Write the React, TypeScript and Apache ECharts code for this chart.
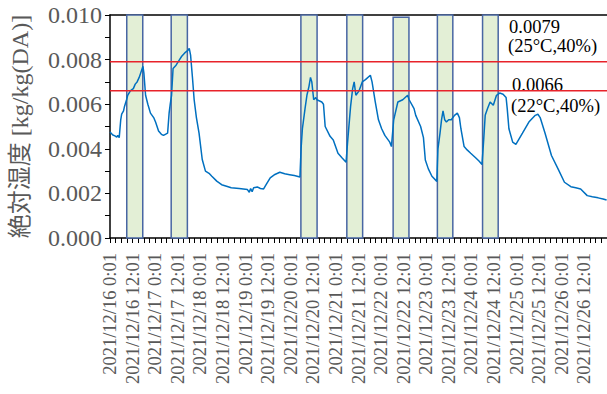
import React, { useEffect, useRef } from "react";
import * as echarts from "echarts";

// Hours elapsed since 2021/12/16 0:01
const hours = [
  0, 1.5, 2.6, 3.6, 4.1, 4.9, 5.7, 6.2, 7.2, 7.7, 8.8, 9.4, 10.8, 11.6, 12.4, 13.4, 14.4, 15.5, 16.5, 17.5,
  18.0, 18.9, 20.1, 21.5, 23.2, 24.2, 25.8, 27.3, 28.4, 29.4, 30.6, 31.4, 32.0, 32.7, 33.5, 35.1, 36.6, 38.1,
  39.7, 41.2, 42.1, 42.8, 43.8, 44.7, 45.9, 47.3, 49.0, 50.7, 52.6, 54.1, 56.7, 59.3, 61.9, 64.4, 68.6, 73.0,
  74.0, 74.7, 75.5, 76.3, 78.2, 79.9, 81.6, 83.0, 85.1, 87.6, 90.2, 92.8, 95.4, 97.9, 100.9, 101.5, 102.2,
  103.6, 104.6, 105.7, 106.5, 107.2, 108.2, 109.3, 109.9, 112.5, 113.4, 114.3, 116.9, 118.6, 121.1, 123.2,
  125.4, 126.3, 127.8, 128.9, 129.7, 130.6, 132.3, 134.0, 135.7, 138.3, 139.2, 140.9, 142.6, 144.3, 146.0,
  148.6, 149.5, 150.7, 152.9, 155.5, 158.1, 158.9, 161.5, 162.4, 165.0, 166.5, 167.5, 169.1, 171.0, 173.6,
  174.2, 175.3, 176.1, 176.9, 177.8, 178.7, 179.9, 181.3, 183.0, 184.5, 185.6, 186.4, 188.1, 189.7, 191.6,
  194.2, 196.0, 197.6, 198.5, 199.3, 200.5, 201.9, 203.6, 205.3, 207.0, 208.8, 210.4, 211.0, 211.9, 213.9,
  215.6, 217.0, 219.1, 222.5, 225.9, 227.3, 228.5, 231.1, 234.5, 238.0, 241.4, 244.8, 247.4, 250.0, 253.5,
  256.2, 259.3, 261.9, 263.8,
];

// Absolute humidity [kg/kg(DA)]
const humidity = [
  0.00475, 0.00462, 0.00458, 0.00452, 0.0046, 0.0045, 0.0053, 0.00555, 0.0057, 0.0059, 0.0062, 0.0064, 0.0066,
  0.00665, 0.0067, 0.0069, 0.007, 0.0072, 0.00745, 0.0077, 0.0074, 0.0064, 0.006, 0.0056, 0.0054, 0.0052,
  0.0048, 0.00465, 0.0046, 0.00465, 0.0047, 0.0056, 0.006, 0.0064, 0.0076, 0.00775, 0.00795, 0.00815, 0.0083,
  0.0084, 0.0085, 0.0082, 0.0072, 0.0062, 0.0054, 0.0047, 0.00352, 0.003, 0.0029, 0.00277, 0.00255, 0.00239,
  0.00232, 0.00225, 0.00222, 0.00217, 0.00205, 0.00222, 0.00208, 0.00225, 0.00229, 0.00222, 0.0022, 0.0024,
  0.0027, 0.00285, 0.00295, 0.00288, 0.00284, 0.0028, 0.00274, 0.004, 0.0049, 0.0058, 0.0064, 0.0068, 0.0072,
  0.007, 0.0062, 0.0063, 0.0062, 0.0061, 0.006, 0.005, 0.00456, 0.0044, 0.0038, 0.0036, 0.0034, 0.0044,
  0.0059, 0.0067, 0.007, 0.0064, 0.0066, 0.007, 0.0071, 0.0073, 0.007, 0.0061, 0.0053, 0.0049, 0.0046,
  0.0043, 0.0041, 0.0053, 0.0061, 0.0062, 0.0064, 0.0062, 0.0058, 0.0055, 0.005, 0.0045, 0.0035, 0.0031,
  0.00277, 0.00254, 0.004, 0.0047, 0.0053, 0.0057, 0.0053, 0.0052, 0.0053, 0.0053, 0.0055, 0.0056, 0.0054,
  0.0049, 0.0041, 0.00395, 0.0038, 0.0036, 0.00345, 0.0033, 0.0044, 0.0055, 0.0058, 0.0061, 0.00595, 0.0064,
  0.0065, 0.00645, 0.0063, 0.0058, 0.0049, 0.0043, 0.0042, 0.0044, 0.0047, 0.0052, 0.0055, 0.00555, 0.0054,
  0.0047, 0.0037, 0.0031, 0.0025, 0.0023, 0.00225, 0.0022, 0.0019, 0.00185, 0.0018, 0.00175, 0.0017,
];

// Occupied periods (hours since start) shown as shaded bands
const occupiedStart = [8.9, 32.5, 101.4, 125.8, 150.4, 173.9, 197.9];
const occupiedEnd = [17.4, 41.1, 110.0, 134.2, 158.8, 182.1, 206.2];
const occupiedTop = [0.01, 0.01, 0.01, 0.01, 0.0099, 0.01, 0.01];

// Reference humidity levels
const referenceLevels = [0.0079, 0.0066];
const referenceNotes = ["(25°C,40%)", "(22°C,40%)"];

const X_MIN = 0;
const X_MAX = 264;

const serif = "'Liberation Serif', 'Times New Roman', serif";

export default function App() {
  const ref = useRef<HTMLDivElement>(null);

  useEffect(() => {
    document.body.style.margin = "0";
    if (!ref.current) return;
    const chart = echarts.init(ref.current, undefined, { renderer: "svg" });

    const seriesData = hours.map((h, i) => [h, humidity[i]]);
    const bands = occupiedStart.map((s, i) => [
      { xAxis: s, yAxis: 0 },
      { xAxis: occupiedEnd[i], yAxis: occupiedTop[i] },
    ]);

    const xLabel = (v: number) => {
      const day = 16 + Math.floor(v / 24);
      const hr = v % 24;
      return `2021/12/${day} ${hr}:01`;
    };

    const levelSeries = referenceLevels.map((v) => ({
      type: "line",
      data: [
        [X_MIN, v],
        [X_MAX, v],
      ],
      showSymbol: false,
      silent: true,
      z: 4,
      lineStyle: { color: "#e8232a", width: 1.5 },
    }));

    chart.setOption({
      animation: false,
      grid: { left: 95, top: 15, right: 0, bottom: 156 },
      xAxis: [
        {
          type: "value",
          min: X_MIN,
          max: X_MAX,
          interval: 12,
          position: "bottom",
          axisLine: { show: true, onZero: false, lineStyle: { color: "#000", width: 1.5 } },
          axisTick: { show: true, length: 5, lineStyle: { color: "#000" } },
          minorTick: { show: true, splitNumber: 4, length: 5, lineStyle: { color: "#000" } },
          splitLine: { show: false },
          axisLabel: {
            rotate: 90,
            margin: 15,
            color: "#595959",
            fontFamily: serif,
            fontSize: 18.5,
            showMaxLabel: false,
            formatter: xLabel,
          },
        },
        {
          type: "value",
          min: X_MIN,
          max: X_MAX,
          position: "top",
          axisLine: { show: true, onZero: false, lineStyle: { color: "#000", width: 1.5 } },
          axisTick: { show: false },
          axisLabel: { show: false },
          splitLine: { show: false },
        },
      ],
      yAxis: {
        type: "value",
        min: 0,
        max: 0.01,
        interval: 0.002,
        name: "絶対湿度 [kg/kg(DA)]",
        nameLocation: "middle",
        nameRotate: 90,
        nameGap: 78,
        nameTextStyle: {
          color: "#595959",
          fontSize: 24,
          fontFamily: "'Liberation Serif', 'Noto Sans CJK JP', serif",
        },
        axisLine: { show: true, lineStyle: { color: "#000", width: 1.5 } },
        axisTick: { show: true, length: 5, lineStyle: { color: "#000" } },
        minorTick: { show: true, splitNumber: 2, length: 5, lineStyle: { color: "#000" } },
        splitLine: { show: false },
        axisLabel: {
          color: "#595959",
          fontFamily: serif,
          fontSize: 24,
          margin: 8,
          formatter: (v: number) => v.toFixed(3),
        },
      },
      series: [
        {
          type: "line",
          data: [],
          silent: true,
          z: 1,
          markArea: {
            silent: true,
            itemStyle: {
              color: "#e3efd6",
              borderColor: "#4866a3",
              borderWidth: 1.5,
            },
            data: bands,
          },
        },
        {
          type: "line",
          data: seriesData,
          showSymbol: false,
          z: 3,
          lineStyle: { color: "#0070c0", width: 1.5 },
        },
        ...levelSeries,
      ],
      graphic: [
        {
          type: "text",
          left: 509,
          top: 17,
          style: { text: referenceLevels[0].toFixed(4), font: `18.5px ${serif}`, fill: "#000" },
        },
        {
          type: "text",
          left: 508,
          top: 36,
          style: { text: referenceNotes[0], font: `18.5px ${serif}`, fill: "#000" },
        },
        {
          type: "text",
          left: 512,
          top: 75,
          style: { text: referenceLevels[1].toFixed(4), font: `18.5px ${serif}`, fill: "#000" },
        },
        {
          type: "text",
          left: 511,
          top: 96,
          style: { text: referenceNotes[1], font: `18.5px ${serif}`, fill: "#000" },
        },
      ],
    });

    return () => chart.dispose();
  }, []);

  return <div ref={ref} style={{ width: 607, height: 394 }} />;
}
